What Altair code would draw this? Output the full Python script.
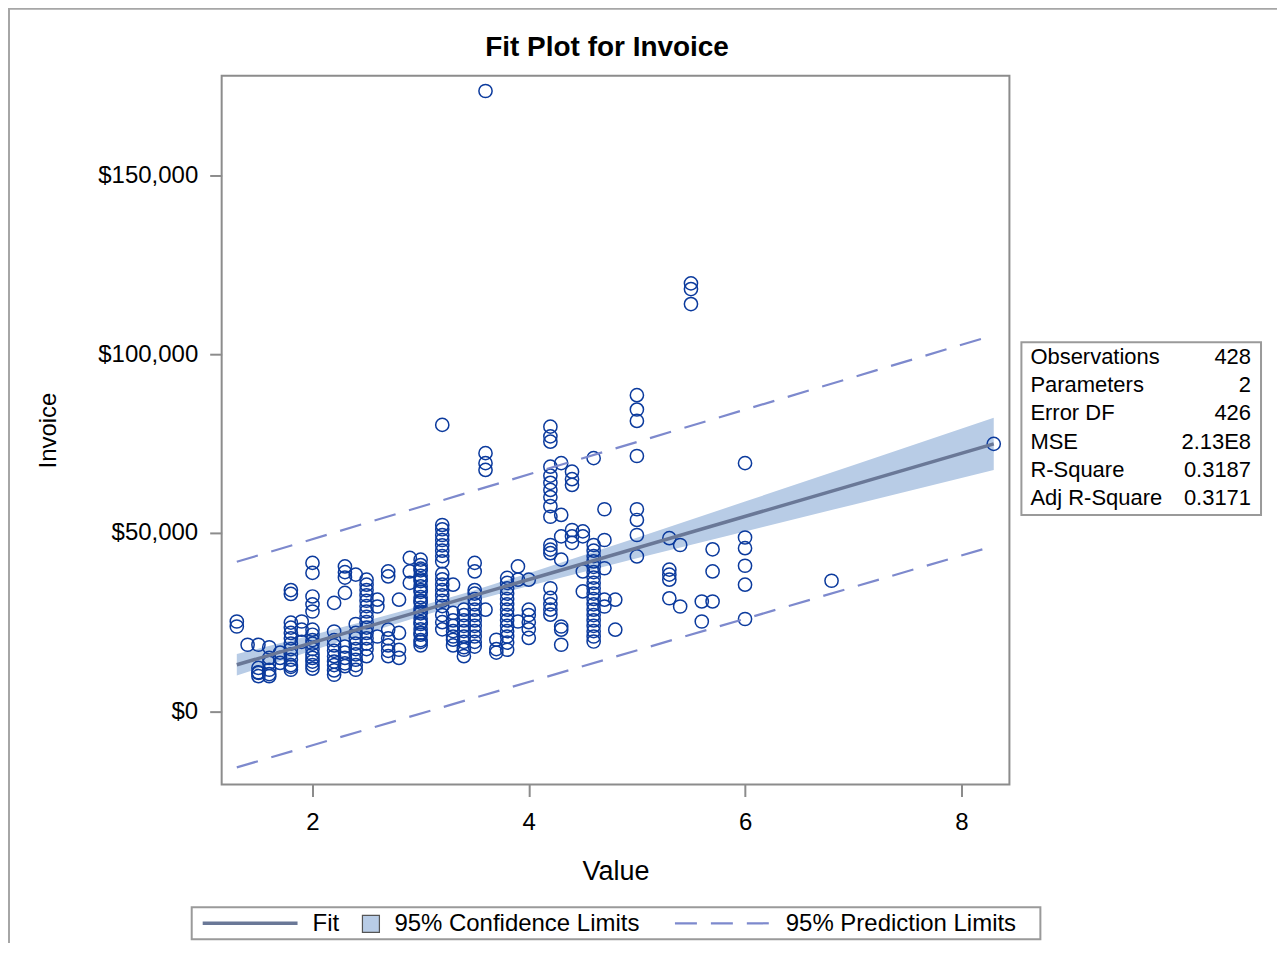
import altair as alt
import pandas as pd

# ---------------- data ----------------
# engine-size columns (x) and the invoice values (in $1000) seen in each column
column_x = [1.3, 1.4, 1.5, 1.6, 1.7, 1.8, 1.9, 2.0, 2.2, 2.3, 2.4, 2.5, 2.6, 2.7,
            2.8, 2.9, 3.0, 3.2, 3.3, 3.4, 3.5, 3.6, 3.7, 3.8, 3.9, 4.0, 4.2, 4.3,
            4.4, 4.5, 4.6, 4.7, 4.8, 5.0, 5.3, 5.4, 5.5, 5.6, 5.7, 6.0, 6.8, 8.3]
column_invoice_k = [
    [25.2, 23.8],
    [18.7],
    [18.7, 12.2, 11.0, 10.8, 9.9],
    [18.0, 15.0, 13.6, 11.7, 10.5, 9.9],
    [16.5, 15.0, 13.6],
    [34.0, 32.9, 24.9, 23.5, 22.0, 20.5, 19.0, 17.5, 16.0, 14.5, 13.0, 12.5, 11.7],
    [25.2, 22.9, 19.5],
    [41.6, 38.8, 32.2, 30.0, 28.0, 22.9, 21.5, 20.0, 19.0, 17.5, 16.0, 15.0, 14.0, 13.0, 12.0],
    [30.4, 22.4, 20.0, 18.5, 17.0, 15.5, 14.0, 13.0, 11.5, 10.3],
    [40.6, 39.0, 37.5, 33.2, 18.2, 16.5, 15.0, 13.5, 12.7],
    [38.3, 24.5, 22.0, 20.5, 19.0, 17.5, 16.0, 14.5, 13.0, 11.7],
    [36.9, 35.5, 34.0, 32.5, 31.0, 29.5, 28.0, 26.5, 25.0, 23.5, 22.0, 20.5, 19.0, 17.5, 15.5],
    [31.3, 29.4, 21.0],
    [39.2, 37.8, 22.9, 20.5, 18.5, 17.0, 15.5],
    [31.3, 22.0, 17.3, 15.0],
    [43.0, 39.2, 36.0],
    [42.5, 41.0, 39.5, 38.0, 36.5, 35.0, 33.5, 32.0, 30.5, 29.0, 27.5, 26.0, 24.5,
     23.0, 21.5, 20.0, 18.5, 19.5, 22.0, 25.0, 28.0, 31.0, 34.0, 37.0, 40.0],
    [80.2, 52.2, 51.0, 49.4, 48.0, 46.5, 45.0, 43.5, 42.0, 38.5, 37.0, 35.5, 34.0,
     32.5, 31.0, 29.5, 27.0, 25.0, 23.0],
    [35.5, 27.6, 25.5, 24.0, 22.5, 21.0, 20.1, 18.5],
    [28.5, 27.0, 25.5, 24.0, 22.5, 21.0, 19.5, 18.0, 17.3, 15.5],
    [41.6, 39.2, 34.0, 33.0, 31.5, 30.0, 28.5, 27.0, 25.5, 24.0, 22.5, 21.0, 19.5, 18.2],
    [173.6, 72.3, 69.5, 67.6, 28.5],
    [20.1, 17.5, 16.5],
    [37.4, 36.0, 34.5, 33.0, 31.5, 30.0, 28.5, 27.0, 25.5, 24.0, 22.5, 21.0, 19.3, 17.3],
    [40.6, 36.9, 25.2],
    [36.9, 28.5, 27.0, 25.0, 23.0, 20.6],
    [79.7, 77.0, 75.5, 68.5, 66.0, 64.0, 62.0, 60.0, 57.5, 54.5, 46.6, 45.3, 44.3,
     34.5, 31.8, 30.0, 28.5, 27.1],
    [69.5, 55.0, 49.0, 42.5, 23.8, 22.9, 18.7],
    [67.1, 65.0, 63.4, 50.8, 49.0, 47.2],
    [50.4, 49.0, 39.2, 33.6],
    [70.9, 46.6, 45.0, 43.5, 42.0, 40.5, 39.0, 37.5, 36.0, 34.5, 33.0, 31.5, 30.0,
     28.5, 27.0, 25.5, 24.0, 22.5, 21.0, 19.6],
    [56.6, 48.0, 40.1, 31.3, 29.4],
    [31.3, 22.9],
    [88.5, 84.5, 81.3, 71.5, 56.6, 53.6, 49.4, 43.4],
    [48.5, 39.7, 38.3, 36.9, 31.7],
    [46.6, 29.4],
    [119.8, 118.2, 114.0],
    [30.8, 25.2],
    [45.4, 39.2, 30.8],
    [69.5, 48.7, 45.7, 40.8, 35.5, 25.9],
    [36.6],
    [74.9],
]

# fitted line
fit_x = [1.3, 8.3]
fit_y = [13100, 74900]

# 95% confidence band
band_x = [1.3, 2.0, 2.5, 3.0, 3.5, 4.0, 5.0, 6.0, 7.0, 8.3]
band_lo = [10070, 17080, 21970, 26670, 31050, 35130, 42870, 50410, 57890, 67590]
band_hi = [16090, 21440, 25380, 29510, 33960, 38710, 48640, 58750, 68930, 82190]

# 95% prediction limits
pi_x = [1.3, 8.3]
pi_lo = [-15600, 46300]
pi_hi = [41900, 105300]

# fit statistics
stat_labels = ["Observations", "Parameters", "Error DF", "MSE", "R-Square", "Adj R-Square"]
stat_values = ["428", "2", "426", "2.13E8", "0.3187", "0.3171"]

legend_labels = ["Fit", "95% Confidence Limits", "95% Prediction Limits"]
chart_title = "Fit Plot for Invoice"

# ---------------- tables ----------------
pts_x, pts_y = [], []
for cx, vals in zip(column_x, column_invoice_k):
    for v in vals:
        pts_x.append(cx)
        pts_y.append(v * 1000)
points_df = pd.DataFrame({"Value": pts_x, "Invoice": pts_y})
fit_df = pd.DataFrame({"Value": fit_x, "Invoice": fit_y})
band_df = pd.DataFrame({"Value": band_x, "lo": band_lo, "hi": band_hi})
pi_df = pd.DataFrame({"Value": pi_x + pi_x,
                      "Invoice": pi_lo + pi_hi,
                      "which": ["lower", "lower", "upper", "upper"]})
stats_df = pd.DataFrame({"row": list(range(len(stat_labels))),
                         "label": stat_labels, "value": stat_values})
one = pd.DataFrame({"a": [0]})

FONT = "Liberation Sans"
PT_COLOR = "#0b3a9d"
FIT_COLOR = "#6a7897"
BAND_COLOR = "#b8cce6"
PI_COLOR = "#7d89cd"
FRAME = "#8c8c8c"

xs = alt.Scale(domain=[1.16, 8.445], nice=False, zero=False)
ys = alt.Scale(domain=[-20400, 177900], nice=False, zero=False)
x_axis = alt.Axis(values=[2, 4, 6, 8], title="Value", titleFontSize=27,
                  titlePadding=24, labelPadding=14)
y_axis = alt.Axis(values=[0, 50000, 100000, 150000], format="$,.0f", title="Invoice",
                  titleFontSize=24, titlePadding=37, labelPadding=12)

def X(field="Value"):
    return alt.X(f"{field}:Q", scale=xs, axis=x_axis)

def Y(field="Invoice"):
    return alt.Y(f"{field}:Q", scale=ys, axis=y_axis)

band = alt.Chart(band_df).mark_area(color=BAND_COLOR, opacity=1).encode(
    x=X(), y=Y("lo"), y2="hi:Q")
pts = alt.Chart(points_df).mark_point(shape="circle", filled=False, size=175,
                                     strokeWidth=1.5, color=PT_COLOR, opacity=1).encode(
    x=X(), y=Y())
fit = alt.Chart(fit_df).mark_line(color=FIT_COLOR, strokeWidth=3.5).encode(x=X(), y=Y())
pil = alt.Chart(pi_df).mark_line(color=PI_COLOR, strokeWidth=2.2, strokeDash=[22, 14]).encode(
    x=X(), y=Y(), detail="which:N")

data_layer = alt.layer(band, pts, fit, pil)

# stats table
stats_box = alt.Chart(one).mark_rect(fill="white", stroke="#9a9a9a", strokeWidth=2).encode(
    x=alt.value(801), x2=alt.value(1041), y=alt.value(267), y2=alt.value(440))
row_scale = alt.Scale(range=[282, 423], padding=0)
stats_lab = alt.Chart(stats_df).mark_text(align="left", baseline="middle", font=FONT,
                                          fontSize=22, color="black").encode(
    x=alt.value(810), y=alt.Y("row:O", scale=row_scale, axis=None), text="label:N")
stats_val = alt.Chart(stats_df).mark_text(align="right", baseline="middle", font=FONT,
                                          fontSize=22, color="black").encode(
    x=alt.value(1031), y=alt.Y("row:O", scale=row_scale, axis=None), text="value:N")
stats_layer = alt.layer(stats_box, stats_lab, stats_val)

# legend
leg_box = alt.Chart(one).mark_rect(fill="white", stroke="#9a9a9a", strokeWidth=2).encode(
    x=alt.value(-30), x2=alt.value(820), y=alt.value(833), y2=alt.value(865))
leg_fit = alt.Chart(one).mark_rule(color=FIT_COLOR, strokeWidth=3.5).encode(
    x=alt.value(-19), x2=alt.value(76), y=alt.value(849))
leg_sq = alt.Chart(one).mark_rect(fill=BAND_COLOR, stroke="#555555", strokeWidth=1.2).encode(
    x=alt.value(141), x2=alt.value(158), y=alt.value(841), y2=alt.value(858))
leg_pi = alt.Chart(one).mark_rule(color=PI_COLOR, strokeWidth=2.2, strokeDash=[22, 14]).encode(
    x=alt.value(454), x2=alt.value(552), y=alt.value(849))
leg_t1 = alt.Chart(one).mark_text(align="left", baseline="middle", font=FONT, fontSize=24,
                                  color="black").encode(
    x=alt.value(91), y=alt.value(850), text=alt.value(legend_labels[0]))
leg_t2 = alt.Chart(one).mark_text(align="left", baseline="middle", font=FONT, fontSize=24,
                                  color="black").encode(
    x=alt.value(173), y=alt.value(850), text=alt.value(legend_labels[1]))
leg_t3 = alt.Chart(one).mark_text(align="left", baseline="middle", font=FONT, fontSize=24,
                                  color="black").encode(
    x=alt.value(565), y=alt.value(850), text=alt.value(legend_labels[2]))
legend_layer = alt.layer(leg_box, leg_fit, leg_sq, leg_pi, leg_t1, leg_t2, leg_t3)

# title as a text mark
title_mark = alt.Chart(one).mark_text(align="center", baseline="middle", font=FONT,
                                      fontSize=28, fontWeight="bold", color="black").encode(
    x=alt.value(386), y=alt.value(-28), text=alt.value(chart_title))

# outer frame of the whole graph
outer = alt.Chart(one).mark_rect(fill=None, stroke="#a6a6a6", strokeWidth=2).encode(
    x=alt.value(-213), x2=alt.value(1200), y=alt.value(-67), y2=alt.value(1000))

chart = alt.layer(outer, title_mark, data_layer, stats_layer, legend_layer).resolve_scale(
    y="independent", x="independent"
).properties(
    width=789, height=710,
    autosize=alt.AutoSizeParams(type="none"),
    padding={"left": 214, "top": 67, "right": 268, "bottom": 158},
).configure_view(
    stroke=FRAME, strokeWidth=2
).configure_axis(
    domain=False, grid=False, tickColor=FRAME, tickWidth=2, tickSize=12,
    labelFont=FONT, labelFontSize=24, labelColor="black",
    titleFont=FONT, titleFontWeight="normal", titleColor="black"
)

chart.save("out.html", embed_options={"renderer": "svg", "actions": False})
